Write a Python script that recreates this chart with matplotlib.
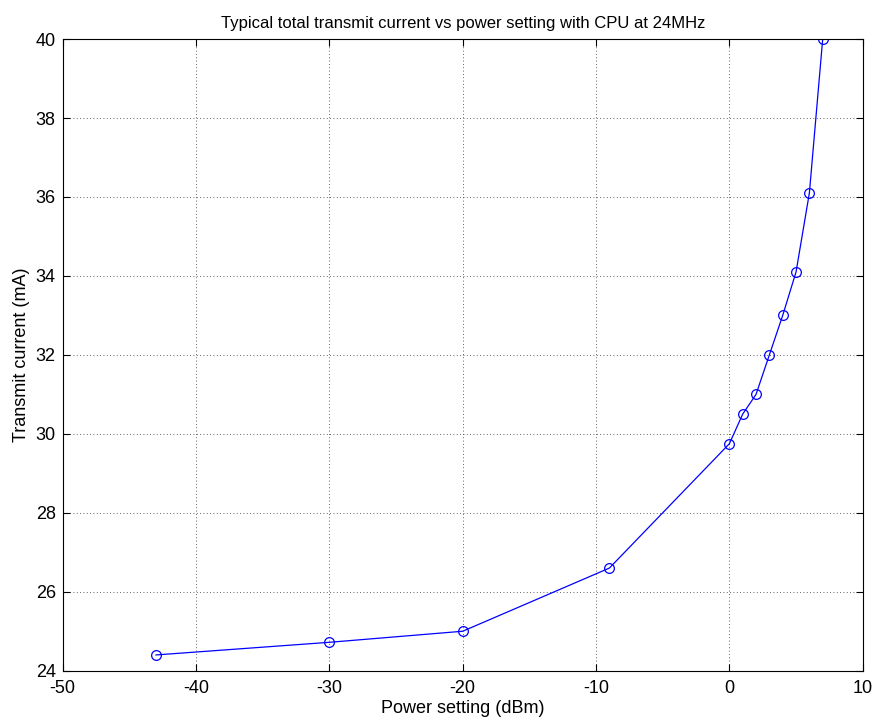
import matplotlib
matplotlib.use("Agg")
import matplotlib.pyplot as plt

power_dbm = [-43, -30, -20, -9, 0, 1, 2, 3, 4, 5, 6, 7]
current_ma = [24.4, 24.72, 25.0, 26.6, 29.75, 30.5, 31.0, 32.0, 33.0, 34.1, 36.1, 40.0]
x_ticks = [-50, -40, -30, -20, -10, 0, 10]
y_ticks = [24, 26, 28, 30, 32, 34, 36, 38, 40]

plt.rcParams['font.family'] = ['Liberation Sans', 'DejaVu Sans']
plt.rcParams['axes.unicode_minus'] = False

fig = plt.figure(figsize=(8.77, 7.23), dpi=100)
ax = fig.add_axes([0.0715, 0.0723, 0.9122, 0.8737])
ax.plot(power_dbm, current_ma, color='#0000ff', lw=0.9, marker='o', ms=7,
        mfc='none', mec='#0000ff', mew=0.9)
ax.set_xlim(-50, 10)
ax.set_ylim(24, 40)
ax.set_xticks(x_ticks)
ax.set_yticks(y_ticks)
ax.grid(True, color='#333333', linestyle=(0, (1, 3)), linewidth=0.6)
ax.tick_params(direction='in', top=True, right=True, labelsize=13, length=5, width=0.8)
ax.tick_params(axis='x', pad=7)
ax.tick_params(axis='y', pad=5)
for s in ax.spines.values():
    s.set_linewidth(0.8)
ax.set_xlabel('Power setting (dBm)', fontsize=13, labelpad=2)
ax.set_ylabel('Transmit current (mA)', fontsize=13, labelpad=4)
ax.set_title('Typical total transmit current vs power setting with CPU at 24MHz', fontsize=12, pad=8)
fig.savefig('out.png', dpi=100)
